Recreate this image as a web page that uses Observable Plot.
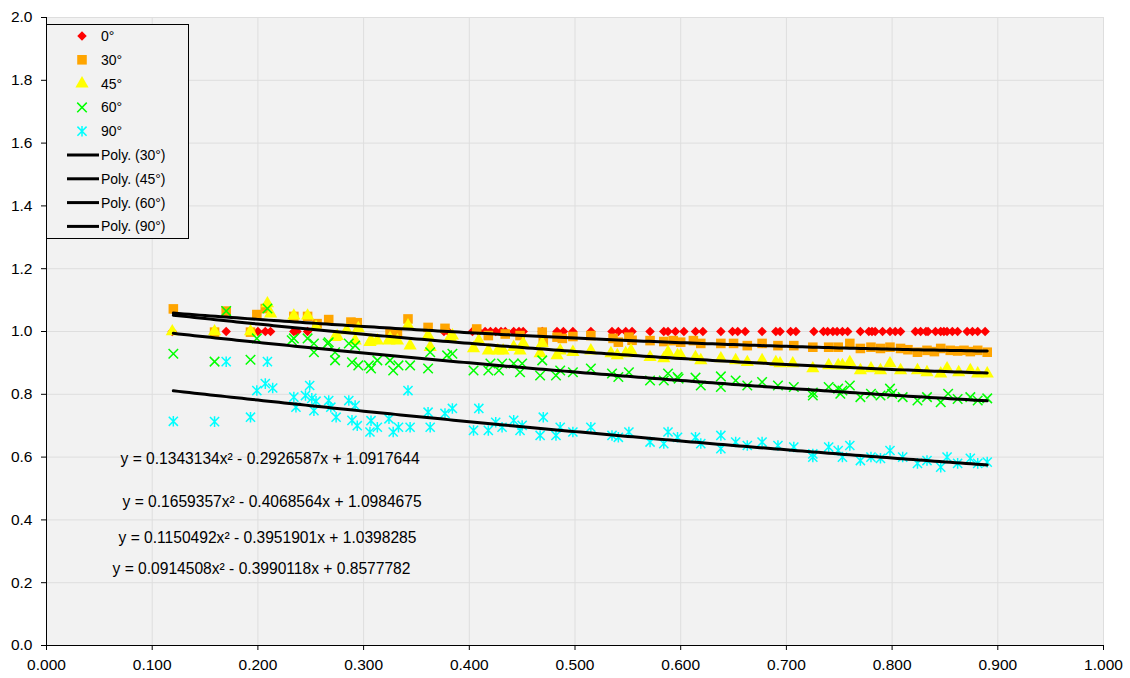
<!DOCTYPE html>
<html><head><meta charset="utf-8">
<script src="https://cdn.jsdelivr.net/npm/d3@7"></script>
<script src="https://cdn.jsdelivr.net/npm/@observablehq/plot@0.6"></script>
<style>
body{margin:0;background:#fff;font-family:"Liberation Sans",Arial,sans-serif;}
#wrap{position:relative;width:1130px;height:678px;}
#legend{position:absolute;left:46px;top:24px;}
</style></head><body><div id="wrap"></div>
<script>
// ---- data ----
const seriesNames = ["0°","30°","45°","60°","90°"];
const trendNames = ["Poly. (30°)","Poly. (45°)","Poly. (60°)","Poly. (90°)"];
const xTicks = [0,0.1,0.2,0.3,0.4,0.5,0.6,0.7,0.8,0.9,1.0];
const yTicks = [0,0.2,0.4,0.6,0.8,1.0,1.2,1.4,1.6,1.8,2.0];

const deg0 = [[0.119,1.0],[0.170,1.0],[0.200,1.0],[0.207,1.0],[0.212,1.0],[0.234,1.0],[0.237,1.0],[0.247,1.0],[0.376,1.0],[0.380,1.0],[0.403,1.0],[0.409,1.0],[0.415,1.0],[0.420,1.0],[0.425,1.0],[0.430,1.0],[0.434,1.0],[0.442,1.0],[0.447,1.0],[0.451,1.0],[0.469,1.0],[0.483,1.0],[0.489,1.0],[0.498,1.0],[0.515,1.0],[0.535,1.0],[0.541,1.0],[0.548,1.0],[0.554,1.0],[0.571,1.0],[0.584,1.0],[0.588,1.0],[0.595,1.0],[0.603,1.0],[0.614,1.0],[0.621,1.0],[0.638,1.0],[0.649,1.0],[0.654,1.0],[0.661,1.0],[0.677,1.0],[0.690,1.0],[0.694,1.0],[0.704,1.0],[0.709,1.0],[0.726,1.0],[0.735,1.0],[0.739,1.0],[0.744,1.0],[0.748,1.0],[0.753,1.0],[0.758,1.0],[0.770,1.0],[0.778,1.0],[0.781,1.0],[0.784,1.0],[0.791,1.0],[0.798,1.0],[0.803,1.0],[0.808,1.0],[0.822,1.0],[0.827,1.0],[0.832,1.0],[0.834,1.0],[0.841,1.0],[0.846,1.0],[0.849,1.0],[0.852,1.0],[0.857,1.0],[0.862,1.0],[0.871,1.0],[0.876,1.0],[0.881,1.0],[0.888,1.0]];

const deg30 = [[0.120,1.072],[0.159,0.998],[0.170,1.065],[0.193,0.998],[0.199,1.054],[0.207,1.073],[0.234,1.048],[0.247,1.048],[0.256,1.025],[0.267,1.038],[0.288,1.030],[0.294,1.028],[0.325,0.997],[0.332,0.995],[0.342,1.040],[0.361,1.013],[0.377,1.010],[0.407,1.008],[0.418,0.987],[0.434,0.992],[0.448,0.987],[0.469,0.998],[0.470,0.966],[0.483,0.982],[0.488,0.978],[0.498,0.984],[0.515,0.987],[0.536,0.978],[0.541,0.966],[0.551,0.982],[0.554,0.972],[0.571,0.971],[0.584,0.968],[0.593,0.971],[0.600,0.966],[0.612,0.971],[0.619,0.962],[0.638,0.962],[0.650,0.962],[0.663,0.955],[0.677,0.962],[0.692,0.955],[0.707,0.955],[0.725,0.950],[0.740,0.950],[0.749,0.950],[0.760,0.962],[0.770,0.946],[0.780,0.950],[0.789,0.946],[0.798,0.950],[0.808,0.946],[0.815,0.942],[0.824,0.934],[0.833,0.940],[0.840,0.936],[0.846,0.946],[0.855,0.940],[0.862,0.938],[0.868,0.940],[0.874,0.936],[0.881,0.940],[0.890,0.934]];

const deg45 = [[0.119,1.000],[0.159,1.000],[0.193,1.000],[0.209,1.089],[0.212,1.057],[0.234,1.050],[0.247,1.050],[0.255,1.014],[0.273,0.982],[0.275,0.985],[0.284,1.003],[0.292,0.971],[0.295,1.010],[0.306,0.966],[0.307,0.971],[0.313,0.971],[0.324,0.971],[0.325,0.978],[0.332,0.971],[0.342,1.019],[0.344,0.955],[0.361,0.987],[0.363,0.950],[0.382,0.982],[0.384,0.987],[0.404,0.946],[0.409,0.971],[0.418,0.939],[0.427,0.939],[0.432,0.939],[0.442,0.950],[0.448,0.939],[0.451,0.962],[0.467,0.930],[0.469,0.962],[0.483,0.924],[0.486,0.939],[0.498,0.934],[0.515,0.939],[0.534,0.930],[0.540,0.924],[0.548,0.930],[0.553,0.939],[0.571,0.918],[0.584,0.914],[0.588,0.934],[0.597,0.924],[0.600,0.924],[0.614,0.918],[0.619,0.908],[0.638,0.914],[0.652,0.908],[0.663,0.902],[0.677,0.908],[0.690,0.902],[0.694,0.898],[0.706,0.898],[0.725,0.882],[0.740,0.892],[0.749,0.892],[0.753,0.892],[0.760,0.902],[0.770,0.876],[0.780,0.882],[0.789,0.876],[0.798,0.898],[0.808,0.876],[0.824,0.876],[0.833,0.870],[0.846,0.866],[0.852,0.882],[0.863,0.870],[0.874,0.876],[0.881,0.866],[0.890,0.866]];

const deg60 = [[0.120,0.929],[0.159,0.904],[0.170,1.065],[0.193,0.910],[0.199,0.978],[0.209,1.073],[0.232,0.972],[0.234,0.978],[0.247,0.978],[0.253,0.962],[0.253,0.934],[0.266,0.962],[0.267,0.966],[0.273,0.934],[0.273,0.908],[0.286,0.962],[0.292,0.955],[0.289,0.902],[0.295,0.892],[0.305,0.892],[0.307,0.882],[0.313,0.908],[0.325,0.908],[0.328,0.876],[0.333,0.892],[0.344,0.892],[0.363,0.934],[0.361,0.882],[0.379,0.924],[0.384,0.929],[0.404,0.876],[0.418,0.876],[0.420,0.898],[0.428,0.876],[0.431,0.898],[0.442,0.898],[0.448,0.870],[0.450,0.898],[0.467,0.860],[0.469,0.908],[0.482,0.860],[0.486,0.876],[0.498,0.870],[0.515,0.882],[0.535,0.866],[0.541,0.855],[0.551,0.870],[0.571,0.844],[0.584,0.844],[0.588,0.866],[0.597,0.855],[0.598,0.850],[0.614,0.853],[0.619,0.828],[0.638,0.857],[0.638,0.823],[0.652,0.844],[0.663,0.828],[0.677,0.839],[0.692,0.828],[0.707,0.823],[0.725,0.796],[0.725,0.806],[0.740,0.823],[0.749,0.818],[0.751,0.802],[0.753,0.812],[0.760,0.828],[0.770,0.791],[0.780,0.802],[0.789,0.796],[0.798,0.818],[0.800,0.802],[0.810,0.791],[0.824,0.780],[0.833,0.791],[0.846,0.775],[0.853,0.802],[0.862,0.785],[0.874,0.791],[0.881,0.780],[0.890,0.787]];

const deg90 = [[0.120,0.714],[0.159,0.713],[0.170,0.904],[0.193,0.727],[0.199,0.812],[0.207,0.834],[0.209,0.904],[0.214,0.820],[0.234,0.791],[0.236,0.759],[0.245,0.796],[0.249,0.828],[0.251,0.787],[0.253,0.748],[0.255,0.778],[0.267,0.780],[0.269,0.759],[0.274,0.727],[0.286,0.780],[0.289,0.717],[0.292,0.764],[0.294,0.700],[0.306,0.680],[0.307,0.716],[0.313,0.695],[0.324,0.722],[0.328,0.680],[0.333,0.695],[0.342,0.812],[0.344,0.695],[0.361,0.743],[0.363,0.695],[0.377,0.739],[0.384,0.755],[0.404,0.685],[0.409,0.755],[0.418,0.685],[0.425,0.711],[0.431,0.695],[0.442,0.717],[0.448,0.685],[0.450,0.701],[0.467,0.669],[0.470,0.727],[0.482,0.669],[0.486,0.695],[0.498,0.680],[0.515,0.695],[0.535,0.669],[0.541,0.663],[0.551,0.680],[0.571,0.648],[0.584,0.643],[0.588,0.680],[0.597,0.663],[0.614,0.663],[0.619,0.643],[0.638,0.669],[0.638,0.627],[0.652,0.648],[0.663,0.637],[0.677,0.648],[0.692,0.637],[0.707,0.632],[0.725,0.600],[0.725,0.610],[0.740,0.632],[0.749,0.621],[0.753,0.600],[0.760,0.637],[0.770,0.589],[0.780,0.600],[0.789,0.596],[0.798,0.621],[0.810,0.600],[0.824,0.580],[0.833,0.589],[0.846,0.568],[0.852,0.600],[0.862,0.580],[0.874,0.596],[0.881,0.580],[0.890,0.584]];

// polynomial trendline coefficients [a, b, c] for y = a x² + b x + c
const trendCoef = [[0.1343134,-0.2926587,1.0917644],[0.1659357,-0.4068564,1.0984675],[0.1150492,-0.3951901,1.0398285],[0.0914508,-0.3990118,0.8577782]];
const trendRange = [0.12, 0.89];
const eqLabels = ["y = 0.1343134x² - 0.2926587x + 1.0917644","y = 0.1659357x² - 0.4068564x + 1.0984675","y = 0.1150492x² - 0.3951901x + 1.0398285","y = 0.0914508x² - 0.3990118x + 0.8577782"];

// ---- styles ----
const FONT = "Liberation Sans, Arial, sans-serif";
const colors = ["#ff0000","#ffa500","#ffff00","#00ff00","#00ffff"];
// Excel-style star: an X with a vertical bar
const excelStar = {draw(ctx, size){ const r = Math.sqrt(size)*0.6; ctx.moveTo(-r,-r); ctx.lineTo(r,r); ctx.moveTo(-r,r); ctx.lineTo(r,-r); ctx.moveTo(0,-r*1.15); ctx.lineTo(0,r*1.15); }};
const symbols = ["diamond2","square","triangle","times",excelStar];
const d3syms = [d3.symbolDiamond2, d3.symbolSquare, d3.symbolTriangle, d3.symbolTimes, excelStar];
const radii = [4.3,5.4,4.9,4.4,4.3];
const filled = [true,true,true,false,false];
const seriesData = [deg0,deg30,deg45,deg60,deg90];

const trendPts = [];
trendCoef.forEach((c,i)=>{
  const xs = d3.range(trendRange[0], trendRange[1]+1e-9, 0.005);
  xs.forEach(x=>trendPts.push({name:trendNames[i], x, y:c[0]*x*x + c[1]*x + c[2]}));
});

const dotMarks = seriesData.map((data,i)=> filled[i]
  ? Plot.dot(data,{x:d=>d[0], y:d=>d[1], symbol:symbols[i], r:radii[i], fill:colors[i], stroke:"none"})
  : Plot.dot(data,{x:d=>d[0], y:d=>d[1], symbol:symbols[i], r:radii[i], fill:"none", stroke:colors[i], strokeWidth:1.5}));

const eqOffsets = [[74,441],[76,484],[72,520],[66,551]];
const eqMarks = eqLabels.map((t,i)=>Plot.text([t],{text:d=>d, frameAnchor:"top-left", dx:eqOffsets[i][0], dy:eqOffsets[i][1], textAnchor:"start", lineAnchor:"middle", fontSize:15.6, fill:"#000"}));

const chart = Plot.plot({
  width:1130, height:678,
  marginLeft:46, marginRight:27, marginTop:17, marginBottom:33,
  style:{fontFamily:FONT, fontSize:"15.5px", color:"#000", background:"#fff", overflow:"visible"},
  x:{domain:[0,1]},
  y:{domain:[0,2]},
  marks:[
    Plot.frame({fill:"#f2f2f2", stroke:"none"}),
    Plot.gridX(xTicks,{stroke:"#dedede", strokeOpacity:1}),
    Plot.gridY(yTicks,{stroke:"#dedede", strokeOpacity:1}),
    Plot.axisX(xTicks,{tickFormat:d3.format(".3f"), tickSize:5, tickPadding:8, label:null, fontSize:15.5}),
    Plot.axisY(yTicks,{tickFormat:d3.format(".1f"), tickSize:5, tickPadding:9, label:null, fontSize:15.5}),
    Plot.ruleX([0],{stroke:"#000"}),
    Plot.ruleY([0],{stroke:"#000"}),
    ...dotMarks,
    Plot.line(trendPts,{x:"x", y:"y", z:"name", stroke:"#000", strokeWidth:3}),
    ...eqMarks
  ]
});
const wrap = document.getElementById("wrap");
wrap.appendChild(chart);

// ---- legend overlay ----
const lw = 142, lh = 214, step = 23.8, y0 = 12;
const lg = d3.select(wrap).append("svg").attr("id","legend").attr("width",lw+1).attr("height",lh+1)
  .style("font-family",FONT).style("font-size","14px");
lg.append("rect").attr("x",0.5).attr("y",0.5).attr("width",lw).attr("height",lh).attr("fill","#f2f2f2").attr("stroke","#000");
seriesNames.forEach((n,i)=>{
  const g = lg.append("g").attr("transform",`translate(36,${y0+i*step})`);
  const p = g.append("path").attr("d", d3.symbol(d3syms[i], Math.PI*radii[i]*radii[i])());
  if (filled[i]) p.attr("fill",colors[i]); else p.attr("fill","none").attr("stroke",colors[i]).attr("stroke-width",1.5);
  lg.append("text").attr("x",55).attr("y",y0+i*step).attr("dy","0.35em").text(n);
});
trendNames.forEach((n,j)=>{
  const y = y0+(j+5)*step;
  lg.append("line").attr("x1",21).attr("x2",53).attr("y1",y).attr("y2",y).attr("stroke","#000").attr("stroke-width",3);
  lg.append("text").attr("x",55).attr("y",y).attr("dy","0.35em").text(n);
});
</script></body></html>
